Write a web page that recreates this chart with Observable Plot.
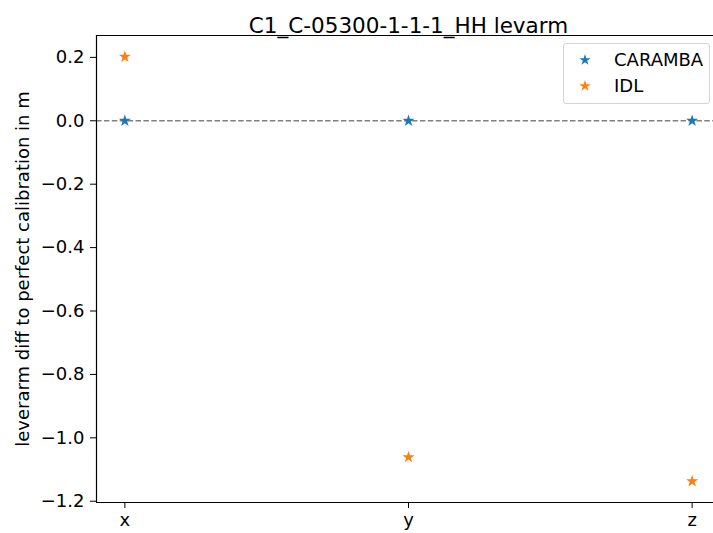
<!DOCTYPE html>
<html><head><meta charset="utf-8">
<script src="https://cdn.jsdelivr.net/npm/d3@7"></script>
<script src="https://cdn.jsdelivr.net/npm/@observablehq/plot@0.6"></script>
<style>
html,body{margin:0;padding:0;background:#fff;width:713px;height:533px;overflow:hidden;}
#wrap{position:relative;width:713px;height:533px;overflow:hidden;font-family:"DejaVu Sans",sans-serif;}
#wrap > svg{max-width:none !important;width:800px !important;height:533px !important;position:absolute;left:0;top:0;}
#legend{position:absolute;left:563px;top:43px;width:145px;height:59px;border:1px solid #d4d4d4;border-radius:3px;background:rgba(255,255,255,0.8);font-size:18px;color:#000;}
.item{position:absolute;left:0;height:22px;width:140px;}
.item svg{position:absolute;left:14px;top:4px;}
.item span{position:absolute;left:50px;top:0;line-height:22px;white-space:nowrap;}
</style></head>
<body><div id="wrap"></div>
<script>
const title = "C1_C-05300-1-1-1_HH levarm";
const yLabel = "leverarm diff to perfect calibration in m";
const categories = ["x", "y", "z"];
const seriesNames = ["CARAMBA", "IDL"];
const carambaValues = [0.0, 0.0, 0.0];
const idlValues = [0.202, -1.061, -1.137];
const yTicks = [-1.2, -1.0, -0.8, -0.6, -0.4, -0.2, 0.0, 0.2];
const yLimits = [-1.204, 0.269];
const xLimits = [-0.1, 2.1];
const colors = ["#1f77b4", "#ff7f0e"];

const data = [];
categories.forEach((c, i) => {
  data.push({idx: i, cat: c, value: carambaValues[i], series: seriesNames[0]});
});
categories.forEach((c, i) => {
  data.push({idx: i, cat: c, value: idlValues[i], series: seriesNames[1]});
});

const chart = Plot.plot({
  width: 800,
  height: 533,
  marginLeft: 96,
  marginRight: 80,
  marginTop: 35,
  marginBottom: 31,
  style: {fontFamily: "DejaVu Sans, sans-serif", fontSize: "18px", color: "#000", background: "#fff", maxWidth: "none"},
  x: {domain: xLimits, label: null},
  y: {domain: yLimits, label: null},
  color: {domain: seriesNames, range: colors},
  marks: [
    Plot.ruleY([0], {stroke: "#808080", strokeWidth: 1.6, strokeDasharray: "5.5,2.4"}),
    Plot.dot(data, {x: "idx", y: "value", fill: "series", symbol: "star", r: 3.8, stroke: null}),
    Plot.ruleY(yLimits, {stroke: "#000", strokeWidth: 1.2}),
    Plot.ruleX([xLimits[0]], {stroke: "#000", strokeWidth: 1.2}),
    Plot.axisY({ticks: yTicks, tickFormat: d3.format(".1f"), tickSize: 6, tickPadding: 6, fontSize: 18,
      label: yLabel, labelAnchor: "center", labelOffset: 80, labelArrow: "none"}),
    Plot.axisX({ticks: categories.map((c, i) => i), tickFormat: i => categories[i], tickSize: 6, tickPadding: 5, fontSize: 18, label: null}),
    Plot.text([title], {frameAnchor: "top", dy: -18, fontSize: 21.5, fill: "#000"})
  ]
});
document.getElementById("wrap").appendChild(chart);

// legend
const legend = document.createElement("div");
legend.id = "legend";
const starPath = d3.symbol(d3.symbolStar, 40)();
seriesNames.forEach((name, i) => {
  const item = document.createElement("div");
  item.className = "item";
  item.style.top = (5 + i * 26) + "px";
  item.innerHTML = `<svg width="14" height="14" viewBox="-7 -7 14 14"><path d="${starPath}" fill="${colors[i]}"/></svg><span>${name}</span>`;
  legend.appendChild(item);
});
document.getElementById("wrap").appendChild(legend);
</script></body></html>
